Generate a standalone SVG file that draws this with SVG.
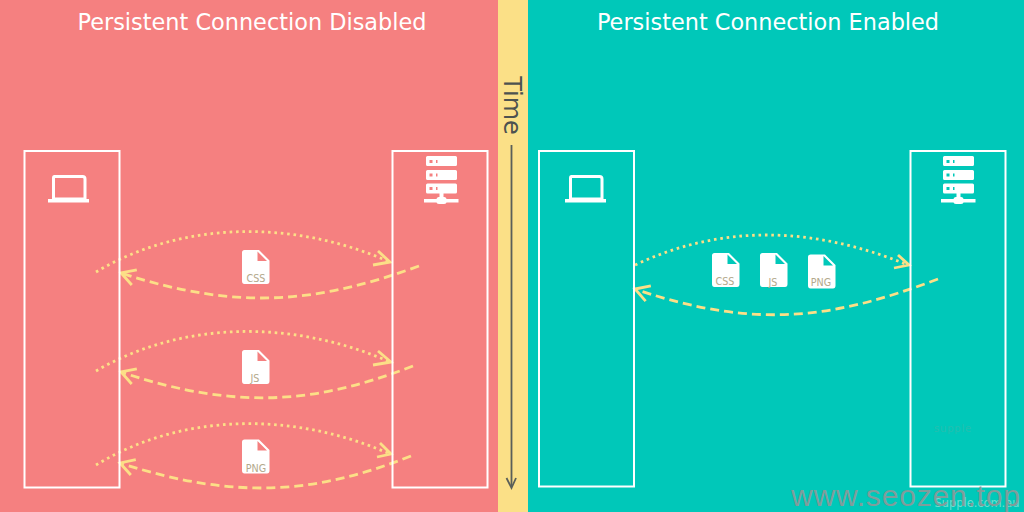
<svg xmlns="http://www.w3.org/2000/svg" width="1024" height="512" viewBox="0 0 1024 512">
<style>
text{font-family:"DejaVu Sans",sans-serif}
.box{fill:none;stroke:#fff;stroke-width:2}
.title{font-size:22.4px;fill:#fff;text-anchor:middle}
.req,.res,.head{fill:none;stroke:#fcdf87}
.req{stroke-dasharray:2.6 3.8;stroke-width:2.8}
.res{stroke-dasharray:9 5;stroke-width:2.8}
.head{stroke-width:2.8}
.ft{font-size:9.600px;text-anchor:middle;fill:#b3a98c}
</style>
<defs>
<marker id="ah" markerUnits="userSpaceOnUse" markerWidth="22" markerHeight="22" refX="17" refY="9" orient="auto"><path d="M3 1 L17 9 L3 17" class="head"/></marker>
<g id="laptop"><path d="M5.500 1.500 H33.500 Q36 1.500 36 4 V24 H4.500 V3 Q4.500 1.500 5.500 1.500 Z" fill="none" stroke="#fff" stroke-width="3"/><rect x="-1" y="24" width="41" height="3.500" fill="#fff"/></g>
<g id="server"><path fill="#fff" fill-rule="evenodd" d="M1.500 0 H29.500 Q31 0 31 1.500 V8.500 Q31 10 29.500 10 H1.500 Q0 10 0 8.500 V1.500 Q0 0 1.500 0 Z M3.500 4 V7 H6.500 V4 Z M10 4 V7 H11.500 V4 Z M1.500 14 H29.500 Q31 14 31 15.500 V22.500 Q31 24 29.500 24 H1.500 Q0 24 0 22.500 V15.500 Q0 14 1.500 14 Z M3.500 17.500 V20.500 H6.500 V17.500 Z M10 17.500 V20.500 H11.500 V17.500 Z M1.500 27.500 H29.500 Q31 27.500 31 29 V36 Q31 37.500 29.500 37.500 H1.500 Q0 37.500 0 36 V29 Q0 27.500 1.500 27.500 Z M3.500 31 V34 H6.500 V31 Z M10 31 V34 H11.500 V31 Z"/><rect x="13.500" y="37" width="4" height="9" fill="#fff"/><rect x="-2" y="43" width="34.500" height="3.500" fill="#fff"/><rect x="10.500" y="41" width="10" height="7" rx="2.500" fill="#fff"/></g>
<path id="doc" fill-rule="evenodd" d="M2.500 0 H17 L27.500 10.500 V31 Q27.500 34 25 34 H2.500 Q0 34 0 31 V2.500 Q0 0 2.500 0 Z M15.500 1.500 V11 H25 Z" fill="#fff"/>
</defs>
<rect id="bg-left" x="0" y="0" width="498" height="512" fill="#f58080"/>
<rect id="bg-mid" x="498" y="0" width="30" height="512" fill="#fbe087"/>
<rect id="bg-right" x="528" y="0" width="496" height="512" fill="#00c8b9"/>
<text class="title" x="252" y="30">Persistent Connection Disabled</text>
<text class="title" x="768" y="30">Persistent Connection Enabled</text>
<g id="time">
<text x="512" y="105.500" font-size="24" fill="#4d5250" text-anchor="middle" dominant-baseline="central" transform="rotate(90 512 105.500)">Time</text>
<path d="M511.500 145 V486" stroke="#5a5f59" stroke-width="1.800" fill="none"/>
<path d="M506.500 478 L511.500 488 L516 478" stroke="#5a5f59" stroke-width="1.800" fill="none"/>
</g>
<g id="connectors">
<path class="req" d="M96 272 C180 222 290 218 390 262"/>
<path class="res" marker-end="url(#ah)" d="M419 266 C320 302 240 312 121 273"/>
<path class="req" d="M96 371 C180 322 290 318 390 362"/>
<path class="res" marker-end="url(#ah)" d="M413 366 C320 402 240 412 121 372"/>
<path class="req" d="M96 465 C180 414 290 410 390 454"/>
<path class="res" marker-end="url(#ah)" d="M411 456 C320 492 240 502 120 463"/>
<path class="req" d="M635 265 C720 225 810 225 908 265"/>
<path class="res" marker-end="url(#ah)" d="M938 279 C840 316 760 332 635 289"/>
<path class="head" d="M378 251 L390 262 L373 265"/>
<path class="head" d="M378 351 L391 362 L373 365"/>
<path class="head" d="M380 443 L391 454 L377 457"/>
<path class="head" d="M898 255 L909 265 L894 268"/>
</g>
<g id="client-left"><rect class="box" x="24.500" y="151" width="95" height="336.500"/><use href="#laptop" x="49" y="175"/></g>
<g id="server-left"><rect class="box" x="392.500" y="151" width="95" height="336.500"/><use href="#server" x="426" y="156"/></g>
<g id="client-right"><rect class="box" x="539" y="151" width="95" height="335.500"/><use href="#laptop" x="566" y="175"/></g>
<g id="server-right"><rect class="box" x="910.500" y="151" width="95" height="335.500"/><use href="#server" x="943" y="156"/></g>
<g id="file-css-left"><use href="#doc" x="242" y="250"/><text class="ft" x="256" y="282">CSS</text></g>
<g id="file-js-left"><use href="#doc" x="242" y="350"/><text class="ft" x="255" y="382">JS</text></g>
<g id="file-png-left"><use href="#doc" x="242" y="439.500"/><text class="ft" x="256" y="472">PNG</text></g>
<g id="file-css-right"><use href="#doc" x="712" y="253"/><text class="ft" x="725" y="285">CSS</text></g>
<g id="file-js-right"><use href="#doc" x="760" y="253"/><text class="ft" x="773" y="286">JS</text></g>
<g id="file-png-right"><use href="#doc" x="808" y="254.500"/><text class="ft" x="821" y="286">PNG</text></g>
<text x="953" y="432" font-size="10" fill="#22bfb0" text-anchor="middle" letter-spacing="0.800">supple</text>
<text x="977" y="507" font-size="11.400" fill="#6fddd0" text-anchor="middle">Supple.com.au</text>
<text x="791" y="506" font-size="30" fill="#7f9d9b" style="font-family:'Liberation Sans',sans-serif" letter-spacing="0.800">www.seozen.top</text>
</svg>
